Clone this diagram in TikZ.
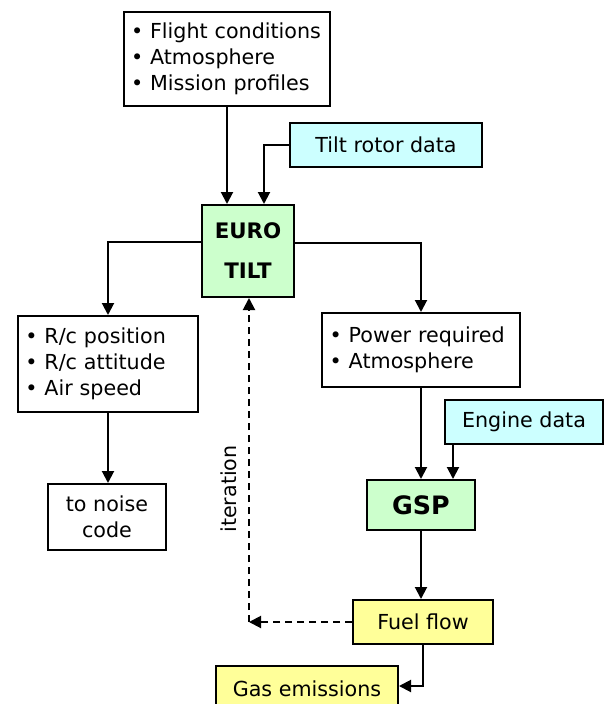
\documentclass[tikz,border=0pt]{standalone}
\usepackage{fontspec}
\setmainfont{DejaVu Sans}
\usetikzlibrary{arrows.meta,positioning,calc}
\definecolor{cyanbox}{HTML}{CCFFFF}
\definecolor{greenbox}{HTML}{CCFFCC}
\definecolor{yellowbox}{HTML}{FFFF99}
\tikzset{
  txt/.style={font=\fontsize{15.5}{19.5}\selectfont},
  boldtxt/.style={font=\bfseries\fontsize{16}{30}\selectfont},
  box/.style={draw=black,line width=1.5pt,inner sep=0pt,txt},
  listbox/.style={box,fill=white,align=left,inner xsep=5pt},
  databox/.style={box,fill=cyanbox,align=center},
  codebox/.style={box,fill=greenbox,align=center},
  outbox/.style={box,fill=yellowbox,align=center},
  arr/.style={-{Triangle[length=9pt,width=9pt]},draw=black,line width=1.5pt},
  dasharr/.style={arr,dashed,dash pattern=on 5pt off 4pt}
}
\begin{document}
\begin{tikzpicture}[x=0.75pt,y=-0.75pt]
\path[use as bounding box] (0,0) rectangle (604,704);
% input boxes
\node[listbox,minimum width=154.5pt,minimum height=70.5pt,text width=144pt] (cond) at (227,59) {• Flight conditions\\• Atmosphere\\• Mission profiles};
\node[databox,minimum width=144pt,minimum height=33pt] (tilt) at (386,145) {Tilt rotor data};
\node[codebox,boldtxt,minimum width=69pt,minimum height=69pt] (euro) at (248,251) {EURO\\TILT};
% outputs of EUROTILT
\node[listbox,minimum width=135pt,minimum height=72pt,text width=124pt] (pos) at (108,364) {• R/c position\\• R/c attitude\\• Air speed};
\node[box,fill=white,align=center,minimum width=88.5pt,minimum height=49.5pt] (noise) at (107,517) {to noise\\code};
\node[listbox,minimum width=148.5pt,minimum height=55.5pt,text width=137pt] (power) at (421,350) {• Power required\\• Atmosphere};
\node[databox,minimum width=118.5pt,minimum height=33pt] (engine) at (524,422) {Engine data};
\node[codebox,font=\bfseries\fontsize{19}{22}\selectfont,minimum width=81pt,minimum height=37.5pt] (gsp) at (421,505) {GSP};
\node[outbox,minimum width=105pt,minimum height=33pt] (fuel) at (423,622) {Fuel flow};
\node[outbox,minimum width=136.5pt,minimum height=34.5pt] (gas) at (307,689) {Gas emissions};
\node[txt,rotate=90] (iterlabel) at (229,489) {iteration};
% connectors
\coordinate (tiltin) at ($(euro.north)+(16,0)$);
\coordinate (engfoot) at ($(engine.south west)+(9,0)$);
\draw[arr] (cond.south) -- (cond.south |- euro.north);
\draw[arr] (tilt.west) -| (tiltin);
\draw[arr] ($(euro.west)+(0,-9)$) -| (pos.north);
\draw[arr] ($(euro.east)+(0,-8)$) -| (power.north);
\draw[arr] (pos.south) -- (pos.south |- noise.north);
\draw[arr] (power.south) -- (power.south |- gsp.north);
\draw[arr] (engfoot) -- (engfoot |- gsp.north);
\draw[arr] (gsp.south) -- (gsp.south |- fuel.north);
\draw[arr] (fuel.south) |- ($(gas.east)+(0,-3)$);
\coordinate (turn) at ($(euro.south |- fuel.west)+(1,0)$);
\draw[dasharr] (fuel.west) -- (turn);
\draw[dasharr] (turn) -- (turn |- euro.south);
\end{tikzpicture}
\end{document}
